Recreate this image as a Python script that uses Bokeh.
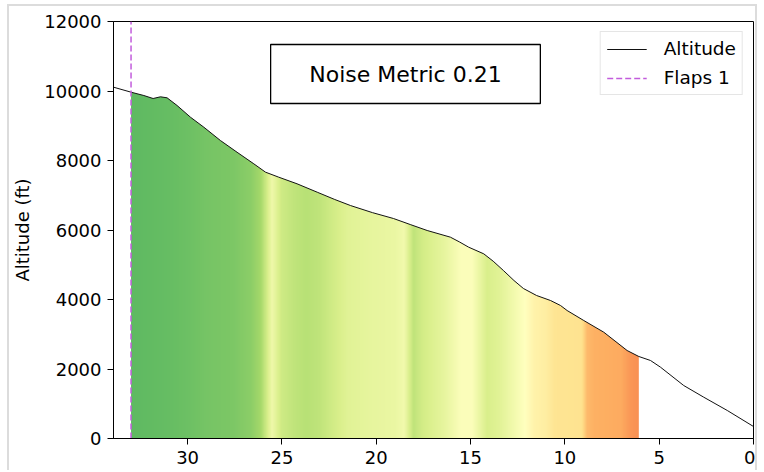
import numpy as np
from bokeh.plotting import figure
from bokeh.models import Range1d, Legend, LegendItem, Label, BoxAnnotation, FixedTicker
from bokeh.embed import file_html
from bokeh.resources import INLINE

# Altitude profile along the approach: distance to go (nmi) and altitude (ft)
distance = [33.93, 33.0, 32.32, 31.83, 31.44, 31.09, 30.56, 29.85, 29.14, 28.26,
            27.38, 26.49, 25.87, 25.17, 24.2, 23.13, 22.2, 21.37, 20.2, 19.09,
            18.2, 17.3, 16.07, 15.6, 15.1, 14.3, 13.8, 13.26, 12.7, 12.2, 11.5,
            10.76, 10.23, 9.88, 9.0, 7.94, 6.70, 6.08, 5.46, 4.93, 3.70, 2.64,
            1.39, 0.0]
altitude = [10110, 9966, 9870, 9784, 9833, 9804, 9583, 9246, 8958, 8575,
            8238, 7904, 7664, 7520, 7330, 7088, 6878, 6705, 6500, 6331,
            6158, 5986, 5794, 5660, 5505, 5314, 5102, 4835, 4547, 4317, 4115,
            3971, 3827, 3683, 3396, 3060, 2532, 2360, 2245, 2052, 1525, 1189,
            806, 345]

# Relative noise level along the shaded segment (0 = quiet, 1 = loud)
noise_dist = [33.0, 31.0, 30.0, 29.0, 27.6, 26.6, 26.1, 25.5, 25.0, 24.3,
              23.7, 23.0, 22.3, 21.5, 20.3, 19.0, 18.5, 18.0, 17.5, 16.9,
              16.3, 15.5, 14.9, 14.1, 13.5, 12.8, 12.1, 11.6, 11.0, 10.5,
              9.1, 8.8, 8.4, 7.0, 6.5, 6.08]
noise_level = [0.19, 0.20, 0.21, 0.225, 0.235, 0.26, 0.30, 0.46, 0.38, 0.35,
               0.335, 0.35, 0.385, 0.42, 0.435, 0.445, 0.465, 0.35, 0.39, 0.415,
               0.44, 0.49, 0.49, 0.40, 0.42, 0.46, 0.50, 0.54, 0.555, 0.585,
               0.59, 0.675, 0.695, 0.705, 0.735, 0.745]

flaps_at = 33.0
noise_metric = 0.21
y_ticks = [0, 2000, 4000, 6000, 8000, 10000, 12000]
x_ticks = [0, 5, 10, 15, 20, 25, 30]

# green -> yellow -> red colour scale
scale_stops = ["#006837", "#1a9850", "#66bd63", "#a6d96a", "#d9ef8b", "#ffffbf",
               "#fee08b", "#fdae61", "#f46d43", "#d73027", "#a50026"]
stop_rgb = np.array([[int(c[i:i + 2], 16) for i in (1, 3, 5)] for c in scale_stops], float)
stop_pos = np.linspace(0, 1, len(scale_stops))

fill_start, fill_end = noise_dist[0], noise_dist[-1]

# horizontal colour ramp for the shaded area (column 0 = fill_end)
ncol = 1400
cols = np.linspace(fill_end, fill_start, ncol)
lvl = np.interp(cols, noise_dist[::-1], noise_level[::-1])
rgba = np.zeros((1, ncol, 4), dtype=np.uint8)
for k in range(3):
    rgba[0, :, k] = np.interp(lvl, stop_pos, stop_rgb[:, k]).round().astype(np.uint8)
rgba[0, :, 3] = 255
ramp = rgba.view(dtype=np.uint32).reshape((1, ncol))

p = figure(width=750, height=466, output_backend="svg", toolbar_location=None,
           x_range=Range1d(distance[0], distance[-1]), y_range=Range1d(y_ticks[0], y_ticks[-1]),
           min_border_left=104, min_border_right=6, min_border_top=15, min_border_bottom=34)
p.margin = (4, 0, 0, 7)
p.styles = {"border-top": "2px solid #dcdcdc", "border-left": "2px solid #dcdcdc",
            "border-right": "2px solid #dcdcdc"}
p.background_fill_color = "white"
p.border_fill_color = "white"
p.outline_line_color = "black"
p.outline_line_width = 1
p.grid.visible = False

# profile points over the shaded segment, ordered from fill_start down to fill_end
seg = [(d, a) for d, a in zip(distance, altitude) if fill_end <= d <= fill_start]
top_alt = max(a for d, a in seg)
p.image_rgba(image=[ramp], x=fill_end, y=0, dw=fill_start - fill_end, dh=top_alt + 50)

# white mask above the profile so the ramp only shows beneath the curve
pad = 0.08
mask_x = ([fill_start + pad] + [d for d, a in seg] +
          [fill_end - pad, fill_end - pad, fill_start + pad])
mask_y = ([seg[0][1]] + [a for d, a in seg] +
          [seg[-1][1], top_alt + 300, top_alt + 300])
p.patch(mask_x, mask_y, fill_color="white", line_color=None)

alt_line = p.line(distance, altitude, line_color="#111111", line_width=1)
flaps_line = p.line([flaps_at, flaps_at], [y_ticks[0], y_ticks[-1]], line_color="#c25cdc",
                    line_width=1.5, line_dash="6 3")

for ax in (p.xaxis, p.yaxis):
    ax.major_label_text_font = "DejaVu Sans"
    ax.major_label_text_font_size = "18px"
    ax.major_label_text_color = "black"
    ax.axis_line_color = "black"
    ax.axis_line_width = 1
    ax.major_tick_line_color = "black"
    ax.major_tick_out = 6
    ax.major_tick_in = 0
    ax.minor_tick_line_color = None
    ax.major_label_standoff = 6

p.xaxis.ticker = FixedTicker(ticks=x_ticks)
p.yaxis.ticker = FixedTicker(ticks=y_ticks)
p.yaxis.axis_label = "Altitude (ft)"
p.yaxis.axis_label_text_font = "DejaVu Sans"
p.yaxis.axis_label_text_font_size = "18px"
p.yaxis.axis_label_text_font_style = "normal"
p.yaxis.axis_label_text_color = "black"
p.yaxis.axis_label_standoff = 8
p.yaxis.major_label_standoff = 6

# annotation box with the noise metric
p.add_layout(BoxAnnotation(left=25.6, right=11.3, top=11338, bottom=9640,
                           fill_color="white", fill_alpha=1, line_color="black",
                           line_width=1.3, line_alpha=1))
p.add_layout(Label(x=18.45, y=10489, text=f"Noise Metric {noise_metric}",
                   text_font="DejaVu Sans", text_font_size="22px", text_color="black",
                   text_align="center", text_baseline="middle"))

legend = Legend(items=[LegendItem(label="Altitude", renderers=[alt_line]),
                       LegendItem(label="Flaps 1", renderers=[flaps_line])],
                location="top_right")
legend.label_text_font = "DejaVu Sans"
legend.label_text_font_size = "18.5px"
legend.label_text_color = "black"
legend.glyph_width = 40
legend.glyph_height = 20
legend.label_height = 20
legend.label_standoff = 17
legend.spacing = 8
legend.padding = 6
legend.margin = 10
legend.border_line_color = "#cccccc"
legend.border_line_width = 1
legend.background_fill_alpha = 0.8
p.add_layout(legend)

open("out.html", "w").write(file_html(p, INLINE))
